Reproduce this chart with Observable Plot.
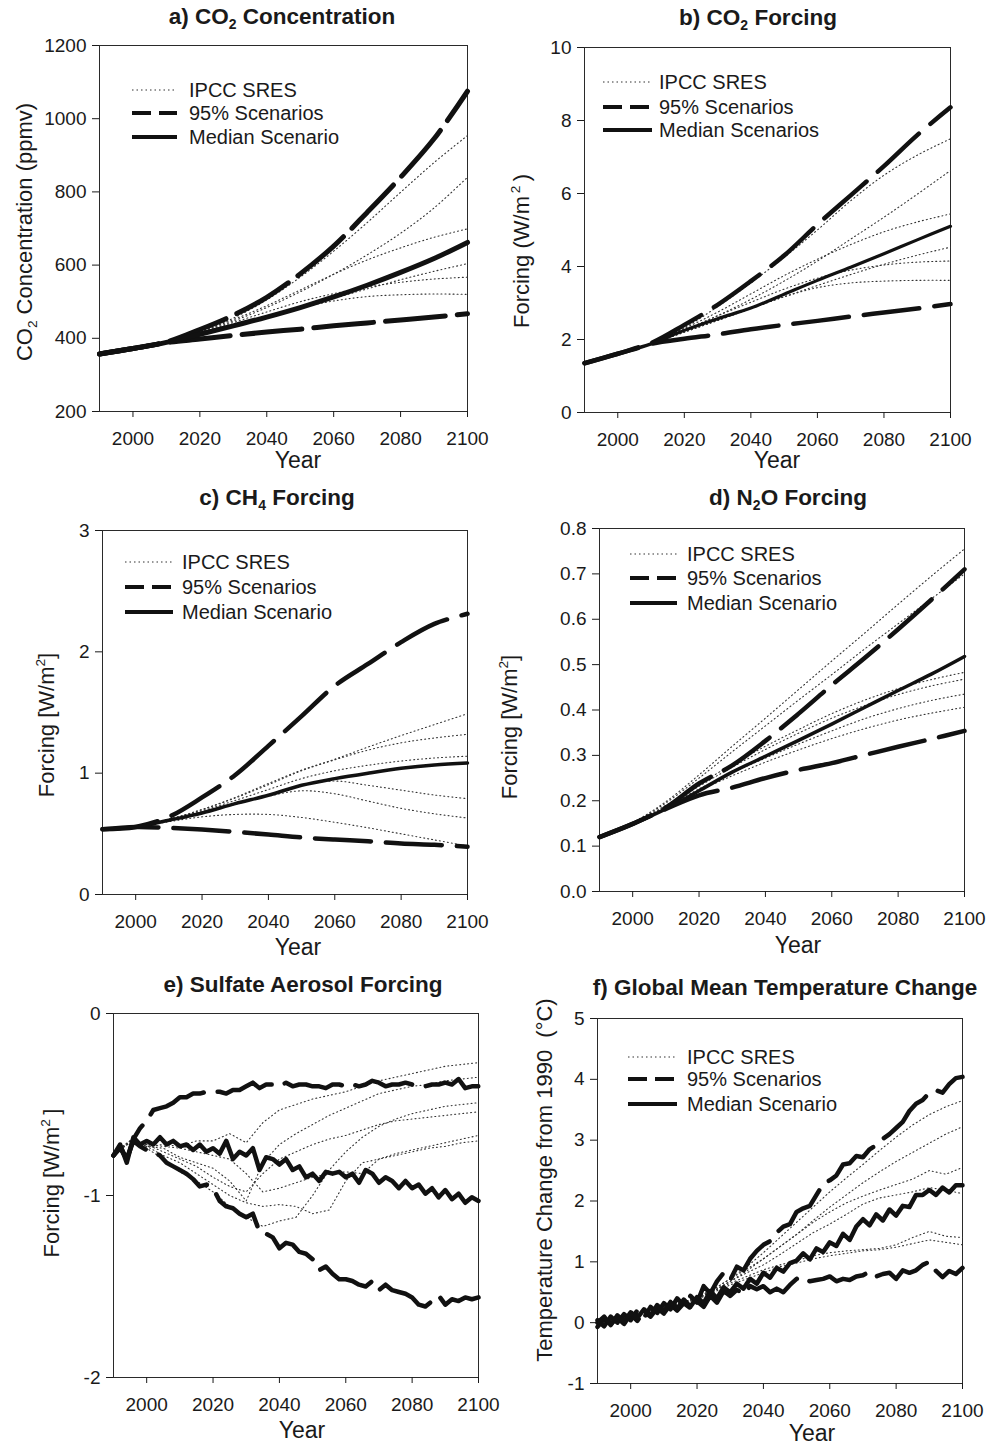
<!DOCTYPE html>
<html><head><meta charset="utf-8">
<script src="https://cdn.jsdelivr.net/npm/d3@7"></script>
<script src="https://cdn.jsdelivr.net/npm/@observablehq/plot@0.6"></script>
<style>
body{margin:0;background:#fff;}
#root{position:relative;width:989px;height:1445px;overflow:hidden;background:#fff;font-family:"Liberation Sans",Arial,Helvetica,sans-serif;color:#1a1a1a;}
.t{position:absolute;white-space:nowrap;transform:translate(-50%,-50%);line-height:1;}
.title{font-weight:bold;font-size:22.5px;}
.xl{font-size:23px;}
.yl{font-size:22px;transform:translate(-50%,-50%) rotate(-90deg);}
.lg{position:absolute;font-size:20px;white-space:nowrap;transform:translateY(-50%);line-height:1;}
.lgl{position:absolute;overflow:visible;}
sub{font-size:0.62em;vertical-align:-0.35em;line-height:0;}
sup{font-size:0.62em;vertical-align:0.65em;line-height:0;}
svg.plot{position:absolute;overflow:visible;}
</style>
</head><body><div id="root"></div>
<script>
// ---------- shared x values ----------
const decadeYears = [1990, 2000, 2010, 2020, 2030, 2040, 2050, 2060, 2070, 2080, 2090, 2100];
const fiveYears = [1990,1995,2000,2005,2010,2015,2020,2025,2030,2035,2040,2045,2050,2055,2060,2065,2070,2075,2080,2085,2090,2095,2100];
const twoYears = d3.range(1990, 2101, 2);
const xTicks = [2000, 2020, 2040, 2060, 2080, 2100];
const legendLabels = ["IPCC SRES", "95% Scenarios", "Median Scenario"];
const legendLabelsB = ["IPCC SRES", "95% Scenarios", "Median Scenarios"];

// ---------- a) CO2 concentration (ppmv) ----------
const aMedian = [357, 372, 389, 411, 434, 458, 484, 513, 545, 580, 618, 662];
const aUpper  = [357, 372, 390, 424, 463, 512, 576, 652, 744, 840, 945, 1075];
const aLower  = [357, 372, 388, 398, 408, 417, 425, 434, 442, 450, 458, 467];
const aSres = [
  [357, 370, 389, 417, 455, 505, 567, 638, 716, 799, 880, 954],
  [357, 370, 389, 415, 447, 484, 527, 575, 628, 687, 756, 840],
  [357, 370, 390, 417, 451, 489, 532, 575, 614, 647, 676, 699],
  [357, 370, 388, 410, 433, 458, 483, 509, 535, 560, 583, 604],
  [357, 370, 388, 414, 443, 472, 500, 522, 540, 553, 562, 567],
  [357, 370, 388, 411, 436, 461, 484, 502, 514, 519, 521, 520]
];
const aYTicks = [200, 400, 600, 800, 1000, 1200];

// ---------- b) CO2 forcing (W/m2) ----------
const bMedian = [1.35, 1.61, 1.88, 2.25, 2.57, 2.86, 3.24, 3.62, 3.98, 4.35, 4.73, 5.10];
const bUpper  = [1.35, 1.61, 1.90, 2.40, 2.95, 3.60, 4.30, 5.15, 5.95, 6.75, 7.60, 8.36];
const bLower  = [1.35, 1.61, 1.88, 2.02, 2.14, 2.28, 2.40, 2.51, 2.63, 2.74, 2.85, 2.97];
const bSres = [
  [1.35, 1.61, 1.90, 2.32, 2.90, 3.55, 4.25, 5.00, 5.80, 6.50, 7.05, 7.50],
  [1.35, 1.61, 1.89, 2.25, 2.65, 3.10, 3.60, 4.15, 4.75, 5.35, 5.98, 6.63],
  [1.35, 1.61, 1.90, 2.30, 2.75, 3.25, 3.75, 4.20, 4.60, 4.95, 5.22, 5.44],
  [1.35, 1.61, 1.88, 2.20, 2.52, 2.85, 3.17, 3.48, 3.78, 4.06, 4.31, 4.53],
  [1.35, 1.61, 1.89, 2.26, 2.65, 3.02, 3.38, 3.68, 3.90, 4.04, 4.12, 4.15],
  [1.35, 1.61, 1.88, 2.20, 2.52, 2.85, 3.17, 3.42, 3.55, 3.60, 3.62, 3.62]
];
const bYTicks = [0, 2, 4, 6, 8, 10];

// ---------- c) CH4 forcing ----------
const cMedian = [0.538, 0.557, 0.612, 0.672, 0.749, 0.818, 0.900, 0.955, 1.000, 1.040, 1.068, 1.084];
const cUpper  = [0.538, 0.557, 0.640, 0.800, 0.985, 1.225, 1.470, 1.720, 1.900, 2.080, 2.230, 2.314];
const cLower  = [0.538, 0.557, 0.549, 0.535, 0.516, 0.494, 0.470, 0.453, 0.439, 0.420, 0.410, 0.393];
const cSres = [
  [0.538, 0.557, 0.620, 0.700, 0.800, 0.915, 1.025, 1.115, 1.215, 1.310, 1.400, 1.490],
  [0.538, 0.557, 0.620, 0.700, 0.795, 0.905, 1.020, 1.110, 1.190, 1.250, 1.290, 1.320],
  [0.538, 0.557, 0.615, 0.690, 0.775, 0.865, 0.955, 1.020, 1.065, 1.100, 1.125, 1.140],
  [0.538, 0.557, 0.610, 0.680, 0.750, 0.825, 0.900, 0.935, 0.900, 0.860, 0.820, 0.790],
  [0.538, 0.557, 0.610, 0.670, 0.740, 0.810, 0.855, 0.830, 0.770, 0.710, 0.665, 0.630],
  [0.538, 0.557, 0.600, 0.640, 0.660, 0.660, 0.635, 0.595, 0.550, 0.500, 0.450, 0.400]
];
const cYTicks = [0, 1, 2, 3];

// ---------- d) N2O forcing ----------
const dMedian = [0.120, 0.149, 0.182, 0.222, 0.263, 0.298, 0.333, 0.369, 0.406, 0.443, 0.479, 0.518];
const dUpper  = [0.120, 0.149, 0.185, 0.238, 0.278, 0.332, 0.392, 0.455, 0.515, 0.578, 0.643, 0.710];
const dLower  = [0.120, 0.149, 0.182, 0.212, 0.229, 0.250, 0.268, 0.283, 0.301, 0.319, 0.336, 0.354];
const dSres = [
  [0.120, 0.152, 0.198, 0.257, 0.320, 0.382, 0.445, 0.508, 0.570, 0.633, 0.695, 0.755],
  [0.120, 0.151, 0.195, 0.250, 0.308, 0.365, 0.422, 0.478, 0.535, 0.590, 0.645, 0.700],
  [0.120, 0.150, 0.190, 0.236, 0.280, 0.320, 0.357, 0.392, 0.422, 0.447, 0.467, 0.483],
  [0.120, 0.150, 0.188, 0.232, 0.274, 0.313, 0.349, 0.382, 0.410, 0.434, 0.453, 0.468],
  [0.120, 0.149, 0.186, 0.226, 0.262, 0.294, 0.325, 0.354, 0.381, 0.403, 0.421, 0.435],
  [0.120, 0.149, 0.185, 0.222, 0.255, 0.285, 0.312, 0.337, 0.359, 0.378, 0.393, 0.406]
];
const dYTicks = [0, 0.1, 0.2, 0.3, 0.4, 0.5, 0.6, 0.7, 0.8];

// ---------- e) Sulfate aerosol forcing (2-year steps) ----------
const eMedian = [
  -0.78, -0.72, -0.82, -0.68, -0.72,
  -0.70, -0.72, -0.68, -0.72, -0.70,
  -0.73, -0.72, -0.75, -0.72, -0.76,
  -0.74, -0.77, -0.70, -0.80, -0.76,
  -0.78, -0.74, -0.86, -0.79, -0.80,
  -0.83, -0.80, -0.86, -0.84, -0.90,
  -0.88, -0.92, -0.87, -0.88, -0.87,
  -0.90, -0.88, -0.93, -0.86, -0.88,
  -0.93, -0.90, -0.92, -0.96, -0.92,
  -0.96, -0.94, -0.99, -0.96, -1.01,
  -0.97, -1.02, -0.99, -1.04, -1.01,
  -1.03];
const eUpper = [
  -0.78, -0.74, -0.80, -0.69, -0.63,
  -0.59, -0.53, -0.52, -0.51, -0.49,
  -0.46, -0.46, -0.44, -0.44, -0.43,
  -0.43, -0.43, -0.44, -0.42, -0.42,
  -0.40, -0.38, -0.41, -0.39, -0.39,
  -0.40, -0.38, -0.40, -0.39, -0.39,
  -0.40, -0.40, -0.41, -0.39, -0.39,
  -0.40, -0.39, -0.40, -0.39, -0.37,
  -0.38, -0.40, -0.39, -0.39, -0.38,
  -0.39, -0.39, -0.40, -0.39, -0.39,
  -0.38, -0.39, -0.36, -0.41, -0.40,
  -0.40];
const eLower = [
  -0.78, -0.73, -0.80, -0.70, -0.73,
  -0.75, -0.76, -0.78, -0.82, -0.84,
  -0.86, -0.88, -0.91, -0.95, -0.94,
  -0.96, -1.03, -1.06, -1.07, -1.10,
  -1.12, -1.10, -1.20, -1.21, -1.23,
  -1.29, -1.26, -1.27, -1.31, -1.32,
  -1.35, -1.41, -1.39, -1.43, -1.46,
  -1.46, -1.47, -1.49, -1.50, -1.47,
  -1.52, -1.49, -1.52, -1.53, -1.54,
  -1.56, -1.60, -1.61, -1.58, -1.55,
  -1.60, -1.57, -1.58, -1.56, -1.57,
  -1.56];
const eSres = [
  [-0.77,-0.70,-0.73,-0.72,-0.73,-0.70,-0.70,-0.66,-0.71,-0.60,-0.53,-0.50,-0.47,-0.45,-0.43,-0.40,-0.37,-0.35,-0.33,-0.31,-0.29,-0.28,-0.27],
  [-0.77,-0.70,-0.73,-0.74,-0.79,-0.82,-0.85,-0.92,-1.03,-0.82,-0.72,-0.66,-0.61,-0.56,-0.52,-0.48,-0.44,-0.42,-0.40,-0.39,-0.37,-0.36,-0.35],
  [-0.77,-0.71,-0.74,-0.80,-0.87,-0.92,-0.98,-1.06,-1.12,-1.17,-1.14,-1.12,-1.00,-0.86,-0.76,-0.68,-0.62,-0.58,-0.55,-0.53,-0.51,-0.50,-0.49],
  [-0.77,-0.71,-0.72,-0.76,-0.80,-0.84,-0.90,-0.95,-0.98,-0.88,-0.80,-0.76,-0.72,-0.69,-0.67,-0.64,-0.61,-0.59,-0.58,-0.57,-0.56,-0.55,-0.54],
  [-0.77,-0.71,-0.73,-0.78,-0.82,-0.88,-0.94,-1.00,-1.04,-1.06,-1.05,-1.06,-1.10,-1.08,-0.92,-0.82,-0.80,-0.77,-0.75,-0.73,-0.71,-0.69,-0.67],
  [-0.77,-0.70,-0.72,-0.73,-0.74,-0.76,-0.78,-0.80,-0.88,-0.98,-0.96,-0.93,-0.90,-0.88,-0.87,-0.88,-0.80,-0.78,-0.76,-0.74,-0.73,-0.71,-0.70]
];
const eYTicks = [-2, -1, 0];

// ---------- f) Global mean temperature change (2-year steps) ----------
const fMedian = [
  0.00, 0.10, -0.04, 0.12, 0.02,
  0.17, 0.08, 0.22, 0.12, 0.29,
  0.18, 0.34, 0.23, 0.38, 0.26,
  0.42, 0.32, 0.52, 0.40, 0.58,
  0.50, 0.64, 0.56, 0.72, 0.64,
  0.82, 0.74, 0.90, 0.84, 0.98,
  1.02, 1.14, 1.04, 1.22, 1.16,
  1.32, 1.26, 1.46, 1.36, 1.58,
  1.70, 1.60, 1.78, 1.68, 1.86,
  1.76, 1.92, 1.90, 2.10, 2.10,
  2.18, 2.10, 2.22, 2.14, 2.26,
  2.26];
const fUpper = [
  0.04, -0.06, 0.10, 0.00, 0.14,
  0.04, 0.20, 0.08, 0.26, 0.16,
  0.32, 0.22, 0.40, 0.28, 0.44,
  0.33, 0.60, 0.48, 0.68, 0.82,
  0.70, 0.92, 0.86, 1.05, 1.18,
  1.28, 1.34, 1.48, 1.58, 1.62,
  1.82, 1.88, 1.92, 2.10, 2.28,
  2.34, 2.42, 2.60, 2.62, 2.74,
  2.72, 2.85, 2.92, 3.02, 3.10,
  3.20, 3.30, 3.48, 3.60, 3.66,
  3.78, 3.82, 3.78, 3.92, 4.02,
  4.04];
const fLower = [
  -0.07, 0.06, -0.02, 0.08, -0.02,
  0.14, 0.03, 0.18, 0.10, 0.24,
  0.15, 0.30, 0.20, 0.32, 0.24,
  0.35, 0.26, 0.44, 0.33, 0.52,
  0.44, 0.54, 0.47, 0.60, 0.55,
  0.60, 0.50, 0.56, 0.50, 0.62,
  0.72, 0.75, 0.68, 0.70, 0.72,
  0.76, 0.68, 0.72, 0.70, 0.76,
  0.78, 0.84, 0.76, 0.80, 0.82,
  0.72, 0.86, 0.82, 0.86, 0.95,
  1.00, 0.85, 0.75, 0.85, 0.80,
  0.90];
const fSres = [
  [0.00,0.05,0.12,0.18,0.25,0.32,0.42,0.55,0.72,0.92,1.15,1.40,1.65,1.90,2.15,2.38,2.60,2.83,3.05,3.25,3.42,3.55,3.65],
  [0.00,0.05,0.12,0.18,0.25,0.32,0.40,0.52,0.68,0.85,1.05,1.25,1.45,1.68,1.90,2.10,2.30,2.48,2.65,2.80,2.95,3.10,3.22],
  [0.00,0.05,0.12,0.18,0.25,0.32,0.42,0.55,0.72,0.88,1.05,1.25,1.45,1.65,1.82,1.97,2.08,2.18,2.27,2.36,2.50,2.44,2.55],
  [0.00,0.05,0.12,0.18,0.25,0.32,0.40,0.52,0.68,0.82,0.95,1.12,1.30,1.48,1.62,1.78,1.95,2.05,2.10,2.15,2.22,2.18,2.12],
  [0.00,0.05,0.12,0.18,0.25,0.32,0.40,0.52,0.65,0.76,0.87,0.95,1.02,1.10,1.15,1.18,1.20,1.22,1.28,1.40,1.50,1.42,1.40],
  [0.00,0.05,0.10,0.16,0.22,0.30,0.38,0.50,0.62,0.72,0.82,0.92,0.98,1.05,1.10,1.14,1.18,1.20,1.24,1.30,1.36,1.32,1.28]
];
const fYTicks = [-1, 0, 1, 2, 3, 4, 5];

// ---------- rendering ----------
const root = document.getElementById("root");
function rows(years, vals, key) { return years.map((yr, i) => ({year: yr, value: vals[i], series: key})); }
function addHTML(html) { root.insertAdjacentHTML("beforeend", html); }

function panel(cfg) {
  const [l, t, r, b] = cfg.frame;
  const mL = 95, mR = 40, mT = 12, mB = 45;
  const sresRows = cfg.sres.flatMap((s, i) => rows(cfg.sresYears, s, "s" + i));
  const curve = cfg.smooth ? "catmull-rom" : "linear";
  const plot = Plot.plot({
    width: (r - l) + mL + mR, height: (b - t) + mT + mB,
    marginLeft: mL, marginRight: mR, marginTop: mT, marginBottom: mB,
    x: {domain: [1990, 2100]},
    y: {domain: cfg.yDomain},
    style: {fontFamily: "'Liberation Sans', Arial, Helvetica, sans-serif", fontSize: "19px", color: "#1a1a1a", background: "transparent", overflow: "visible"},
    marks: [
      Plot.frame({stroke: "#2a2a2a", strokeWidth: 1}),
      Plot.axisX({ticks: xTicks, tickSize: 6, tickPadding: 14, label: null, tickFormat: d => String(d)}),
      Plot.axisY({ticks: cfg.yTicks, tickSize: 7, tickPadding: 6, label: null, tickFormat: cfg.yFormat}),
      Plot.line(sresRows, {x: "year", y: "value", z: "series", curve, stroke: "#333", strokeWidth: 1.1, strokeDasharray: "1,3"}),
      Plot.line(rows(cfg.years, cfg.upper, "u"), {x: "year", y: "value", curve, stroke: "#111", strokeWidth: cfg.dashW, strokeDasharray: cfg.dash, strokeLinejoin: "round"}),
      Plot.line(rows(cfg.years, cfg.lower, "l"), {x: "year", y: "value", curve, stroke: "#111", strokeWidth: cfg.dashW, strokeDasharray: cfg.dash, strokeLinejoin: "round"}),
      Plot.line(rows(cfg.years, cfg.median, "m"), {x: "year", y: "value", curve, stroke: "#111", strokeWidth: cfg.medW, strokeLinejoin: "round"})
    ]
  });
  plot.classList.add("plot");
  plot.style.left = (l - mL) + "px";
  plot.style.top = (t - mT) + "px";
  root.appendChild(plot);
  addHTML(`<div class="t title" style="left:${cfg.title[1]}px;top:${cfg.title[2]}px">${cfg.title[0]}</div>`);
  addHTML(`<div class="t yl" style="left:${cfg.ylabel[1]}px;top:${cfg.ylabel[2]}px">${cfg.ylabel[0]}</div>`);
  addHTML(`<div class="t xl" style="left:${cfg.xlabel[0]}px;top:${cfg.xlabel[1]}px">Year</div>`);
  if (cfg.legend) {
    const {x0, x1, tx, ys, labels} = cfg.legend;
    const styles = [
      `stroke="#333" stroke-width="1.1" stroke-dasharray="1.5,3"`,
      `stroke="#111" stroke-width="4" stroke-dasharray="19,8"`,
      `stroke="#111" stroke-width="4"`
    ];
    ys.forEach((y, i) => {
      addHTML(`<svg class="lgl" width="${x1 - x0}" height="10" style="left:${x0}px;top:${y - 5}px"><line x1="0" x2="${x1 - x0}" y1="5" y2="5" ${styles[i]}/></svg>`);
      addHTML(`<div class="lg" style="left:${tx}px;top:${y}px">${labels[i]}</div>`);
    });
  }
}

const fmtInt = d => String(d);
panel({frame: [99, 45, 467, 411], yDomain: [200, 1200], yTicks: aYTicks, yFormat: fmtInt,
  years: decadeYears, sresYears: decadeYears, smooth: true, sres: aSres, upper: aUpper, lower: aLower, median: aMedian,
  medW: 5, dashW: 5, dash: "60,12",
  title: ["a) CO<sub>2</sub> Concentration", 282, 17], ylabel: ["CO<sub>2</sub> Concentration (ppmv)", 25, 232], xlabel: [298, 460],
  legend: {x0: 132, x1: 177, tx: 189, ys: [90, 113, 137], labels: legendLabels}});
panel({frame: [584, 47, 950, 412], yDomain: [0, 10], yTicks: bYTicks, yFormat: fmtInt,
  years: decadeYears, sresYears: decadeYears, smooth: true, sres: bSres, upper: bUpper, lower: bLower, median: bMedian,
  medW: 3.2, dashW: 4.5, dash: "56,15",
  title: ["b) CO<sub>2</sub> Forcing", 758, 18], ylabel: ["Forcing (W/m<sup>&thinsp;2</sup>&thinsp;)", 522, 251], xlabel: [777, 460],
  legend: {x0: 603, x1: 652, tx: 659, ys: [82, 107, 130], labels: legendLabelsB}});
panel({frame: [102, 530, 467, 894], yDomain: [0, 3], yTicks: cYTicks, yFormat: fmtInt,
  years: decadeYears, sresYears: decadeYears, smooth: true, sres: cSres, upper: cUpper, lower: cLower, median: cMedian,
  medW: 3.5, dashW: 4.5, dash: "56,15",
  title: ["c) CH<sub>4</sub> Forcing", 277, 498], ylabel: ["Forcing [W/m<sup>2</sup>]", 47, 725], xlabel: [298, 947],
  legend: {x0: 125, x1: 173, tx: 182, ys: [562, 587, 612], labels: legendLabels}});
panel({frame: [599, 528, 964, 891], yDomain: [0, 0.8], yTicks: dYTicks, yFormat: d3.format(".1f"),
  years: decadeYears, sresYears: decadeYears, smooth: true, sres: dSres, upper: dUpper, lower: dLower, median: dMedian,
  medW: 3.5, dashW: 4.5, dash: "56,15",
  title: ["d) N<sub>2</sub>O Forcing", 788, 498], ylabel: ["Forcing [W/m<sup>2</sup>]", 510, 727], xlabel: [798, 945],
  legend: {x0: 630, x1: 677, tx: 687, ys: [554, 578, 603], labels: legendLabels}});
panel({frame: [113, 1013, 478, 1377], yDomain: [-2, 0], yTicks: eYTicks, yFormat: fmtInt,
  years: twoYears, sresYears: fiveYears, smooth: false, sres: eSres, upper: eUpper, lower: eLower, median: eMedian,
  medW: 4.5, dashW: 4.5, dash: "60,14",
  title: ["e) Sulfate Aerosol Forcing", 303, 985], ylabel: ["Forcing [W/m<sup>2</sup>&thinsp;]", 52, 1183], xlabel: [302, 1430],
  legend: null});
panel({frame: [597, 1018, 962, 1383], yDomain: [-1, 5], yTicks: fYTicks, yFormat: fmtInt,
  years: twoYears, sresYears: fiveYears, smooth: false, sres: fSres, upper: fUpper, lower: fLower, median: fMedian,
  medW: 4.5, dashW: 4.5, dash: "60,14",
  title: ["f) Global Mean Temperature Change", 785, 988], ylabel: ["Temperature Change from 1990&nbsp;&nbsp;(°C)", 545, 1180], xlabel: [812, 1433],
  legend: {x0: 628, x1: 677, tx: 687, ys: [1057, 1079, 1104], labels: legendLabels}});
</script>
</body></html>
